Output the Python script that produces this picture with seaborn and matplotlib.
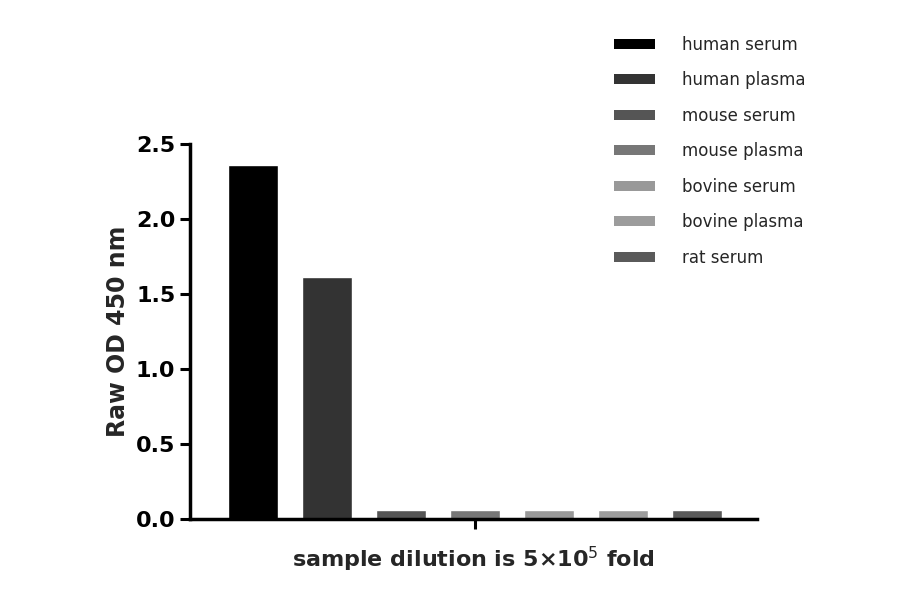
import matplotlib
matplotlib.use("Agg")
import matplotlib.pyplot as plt
import seaborn as sns
import pandas as pd
from matplotlib.patches import Patch

categories = ["human serum", "human plasma", "mouse serum", "mouse plasma",
              "bovine serum", "bovine plasma", "rat serum"]
values = [2.36, 1.61, 0.06, 0.06, 0.06, 0.06, 0.06]
colors = ["#000000", "#333333", "#555555", "#777777", "#999999", "#9c9c9c", "#5a5a5a"]

sns.set_style("white")
plt.rcParams['font.family'] = ['DejaVu Sans']
df = pd.DataFrame({"cat": categories, "val": values})

fig = plt.figure(figsize=(9, 5.94), dpi=100)
ax = fig.add_axes([0.211, 0.126, 0.63, 0.632])
sns.barplot(data=df, x="cat", y="val", hue="cat", palette=colors, order=categories,
            hue_order=categories, width=0.68, legend=False, ax=ax, saturation=1)
ax.set_xlim(-0.85, 6.81)
ax.set_ylim(0, 2.5)
ax.set_yticks([0, 0.5, 1.0, 1.5, 2.0, 2.5])
ax.set_yticklabels(["0.0", "0.5", "1.0", "1.5", "2.0", "2.5"], fontsize=16, fontweight="bold")
ax.set_xticks([3])
ax.set_xticklabels([""])
ax.tick_params(axis="both", direction="out", length=7, width=2.2, colors="black", bottom=True, left=True)
for s in ["top", "right"]:
    ax.spines[s].set_visible(False)
for s in ["left", "bottom"]:
    ax.spines[s].set_linewidth(2.5)
    ax.spines[s].set_color("black")
ax.set_ylabel("Raw OD 450 nm", fontsize=17, fontweight="bold")
ax.set_xlabel("sample dilution is 5×10$^{5}$ fold", fontsize=16, fontweight="bold", labelpad=8)

handles = [Patch(facecolor=c, edgecolor="none") for c in colors]
fig.legend(handles, categories, loc="upper left", bbox_to_anchor=(0.665, 0.965),
           frameon=False, fontsize=12, handlelength=2.5, handleheight=0.55,
           labelspacing=1.05, handletextpad=1.6)
fig.savefig("out.png", dpi=100)
